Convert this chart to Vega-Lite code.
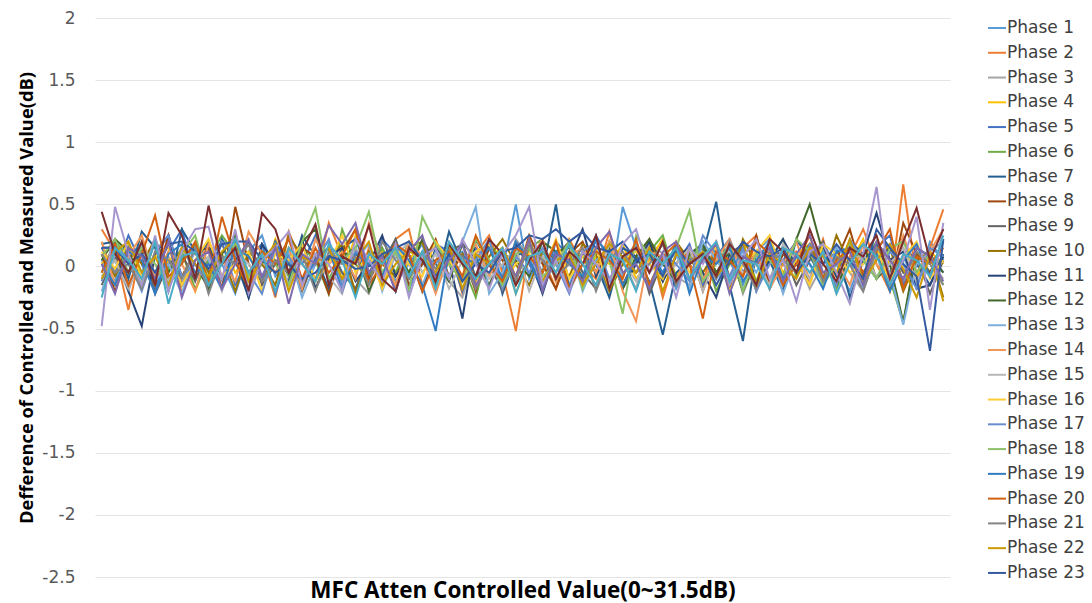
{"$schema":"https://vega.github.io/schema/vega-lite/v6.json","width":855,"height":559,"autosize":{"type":"none"},"padding":{"left":95,"top":18,"right":142,"bottom":26},"background":"white","config":{"view":{"stroke":null},"font":"DejaVu Sans"},
"data":{"values":[
{"p":1,"x":0,"y":0.05},{"p":1,"x":0.5,"y":-0.12},{"p":1,"x":1,"y":0.18},{"p":1,"x":1.5,"y":-0.05},{"p":1,"x":2,"y":0.22},{"p":1,"x":2.5,"y":-0.18},{"p":1,"x":3,"y":0.08},{"p":1,"x":3.5,"y":0.14},{"p":1,"x":4,"y":-0.10},{"p":1,"x":4.5,"y":0.02},{"p":1,"x":5,"y":-0.22},{"p":1,"x":5.5,"y":0.12},{"p":1,"x":6,"y":0.25},{"p":1,"x":6.5,"y":-0.08},{"p":1,"x":7,"y":0.05},{"p":1,"x":7.5,"y":-0.15},{"p":1,"x":8,"y":0.10},{"p":1,"x":8.5,"y":0.20},{"p":1,"x":9,"y":-0.05},{"p":1,"x":9.5,"y":-0.18},{"p":1,"x":10,"y":0.08},{"p":1,"x":10.5,"y":0.15},{"p":1,"x":11,"y":-0.12},{"p":1,"x":11.5,"y":0.02},{"p":1,"x":12,"y":0.18},{"p":1,"x":12.5,"y":-0.20},{"p":1,"x":13,"y":0.06},{"p":1,"x":13.5,"y":0.12},{"p":1,"x":14,"y":-0.08},{"p":1,"x":14.5,"y":0.22},{"p":1,"x":15,"y":-0.03},{"p":1,"x":15.5,"y":0.50},{"p":1,"x":16,"y":-0.10},{"p":1,"x":16.5,"y":0.10},{"p":1,"x":17,"y":0.08},{"p":1,"x":17.5,"y":-0.15},{"p":1,"x":18,"y":0.12},{"p":1,"x":18.5,"y":0.02},{"p":1,"x":19,"y":-0.20},{"p":1,"x":19.5,"y":0.48},{"p":1,"x":20,"y":0.15},{"p":1,"x":20.5,"y":-0.05},{"p":1,"x":21,"y":0.10},{"p":1,"x":21.5,"y":-0.18},{"p":1,"x":22,"y":0.06},{"p":1,"x":22.5,"y":0.20},{"p":1,"x":23,"y":-0.10},{"p":1,"x":23.5,"y":0.04},{"p":1,"x":24,"y":-0.15},{"p":1,"x":24.5,"y":0.12},{"p":1,"x":25,"y":0.22},{"p":1,"x":25.5,"y":-0.08},{"p":1,"x":26,"y":0.05},{"p":1,"x":26.5,"y":-0.12},{"p":1,"x":27,"y":0.18},{"p":1,"x":27.5,"y":0.02},{"p":1,"x":28,"y":-0.20},{"p":1,"x":28.5,"y":0.10},{"p":1,"x":29,"y":0.15},{"p":1,"x":29.5,"y":-0.05},{"p":1,"x":30,"y":0.08},{"p":1,"x":30.5,"y":-0.15},{"p":1,"x":31,"y":0.20},{"p":1,"x":31.5,"y":0.05},
{"p":2,"x":0,"y":0.30},{"p":2,"x":0.5,"y":0.12},{"p":2,"x":1,"y":-0.35},{"p":2,"x":1.5,"y":0.18},{"p":2,"x":2,"y":-0.10},{"p":2,"x":2.5,"y":0.25},{"p":2,"x":3,"y":-0.22},{"p":2,"x":3.5,"y":0.05},{"p":2,"x":4,"y":0.15},{"p":2,"x":4.5,"y":-0.18},{"p":2,"x":5,"y":0.20},{"p":2,"x":5.5,"y":-0.05},{"p":2,"x":6,"y":0.10},{"p":2,"x":6.5,"y":-0.25},{"p":2,"x":7,"y":0.28},{"p":2,"x":7.5,"y":0.02},{"p":2,"x":8,"y":-0.12},{"p":2,"x":8.5,"y":0.35},{"p":2,"x":9,"y":0.08},{"p":2,"x":9.5,"y":-0.20},{"p":2,"x":10,"y":0.15},{"p":2,"x":10.5,"y":-0.08},{"p":2,"x":11,"y":0.22},{"p":2,"x":11.5,"y":0.30},{"p":2,"x":12,"y":-0.15},{"p":2,"x":12.5,"y":0.05},{"p":2,"x":13,"y":0.18},{"p":2,"x":13.5,"y":-0.22},{"p":2,"x":14,"y":0.10},{"p":2,"x":14.5,"y":0.25},{"p":2,"x":15,"y":-0.05},{"p":2,"x":15.5,"y":-0.52},{"p":2,"x":16,"y":0.15},{"p":2,"x":16.5,"y":0.08},{"p":2,"x":17,"y":-0.18},{"p":2,"x":17.5,"y":0.22},{"p":2,"x":18,"y":0.02},{"p":2,"x":18.5,"y":-0.10},{"p":2,"x":19,"y":0.28},{"p":2,"x":19.5,"y":-0.15},{"p":2,"x":20,"y":0.05},{"p":2,"x":20.5,"y":0.18},{"p":2,"x":21,"y":-0.25},{"p":2,"x":21.5,"y":0.10},{"p":2,"x":22,"y":0.02},{"p":2,"x":22.5,"y":-0.12},{"p":2,"x":23,"y":0.20},{"p":2,"x":23.5,"y":-0.08},{"p":2,"x":24,"y":0.15},{"p":2,"x":24.5,"y":0.25},{"p":2,"x":25,"y":-0.18},{"p":2,"x":25.5,"y":0.05},{"p":2,"x":26,"y":0.12},{"p":2,"x":26.5,"y":-0.10},{"p":2,"x":27,"y":0.22},{"p":2,"x":27.5,"y":-0.15},{"p":2,"x":28,"y":0.08},{"p":2,"x":28.5,"y":0.30},{"p":2,"x":29,"y":0.02},{"p":2,"x":29.5,"y":-0.20},{"p":2,"x":30,"y":0.66},{"p":2,"x":30.5,"y":-0.10},{"p":2,"x":31,"y":0.15},{"p":2,"x":31.5,"y":0.46},
{"p":3,"x":0,"y":-0.10},{"p":3,"x":0.5,"y":0.05},{"p":3,"x":1,"y":-0.20},{"p":3,"x":1.5,"y":0.12},{"p":3,"x":2,"y":-0.05},{"p":3,"x":2.5,"y":0.08},{"p":3,"x":3,"y":-0.15},{"p":3,"x":3.5,"y":0.18},{"p":3,"x":4,"y":0.02},{"p":3,"x":4.5,"y":-0.12},{"p":3,"x":5,"y":0.10},{"p":3,"x":5.5,"y":-0.25},{"p":3,"x":6,"y":0.05},{"p":3,"x":6.5,"y":0.15},{"p":3,"x":7,"y":-0.08},{"p":3,"x":7.5,"y":0.20},{"p":3,"x":8,"y":-0.18},{"p":3,"x":8.5,"y":0.02},{"p":3,"x":9,"y":0.12},{"p":3,"x":9.5,"y":-0.10},{"p":3,"x":10,"y":-0.22},{"p":3,"x":10.5,"y":0.08},{"p":3,"x":11,"y":0.15},{"p":3,"x":11.5,"y":-0.05},{"p":3,"x":12,"y":0.02},{"p":3,"x":12.5,"y":0.18},{"p":3,"x":13,"y":-0.12},{"p":3,"x":13.5,"y":-0.25},{"p":3,"x":14,"y":0.10},{"p":3,"x":14.5,"y":0.05},{"p":3,"x":15,"y":-0.15},{"p":3,"x":15.5,"y":0.22},{"p":3,"x":16,"y":0.08},{"p":3,"x":16.5,"y":-0.05},{"p":3,"x":17,"y":0.12},{"p":3,"x":17.5,"y":-0.20},{"p":3,"x":18,"y":0.02},{"p":3,"x":18.5,"y":0.15},{"p":3,"x":19,"y":-0.10},{"p":3,"x":19.5,"y":0.05},{"p":3,"x":20,"y":-0.18},{"p":3,"x":20.5,"y":0.20},{"p":3,"x":21,"y":0.10},{"p":3,"x":21.5,"y":-0.08},{"p":3,"x":22,"y":-0.15},{"p":3,"x":22.5,"y":0.12},{"p":3,"x":23,"y":0.02},{"p":3,"x":23.5,"y":0.18},{"p":3,"x":24,"y":-0.22},{"p":3,"x":24.5,"y":0.05},{"p":3,"x":25,"y":-0.10},{"p":3,"x":25.5,"y":0.15},{"p":3,"x":26,"y":0.08},{"p":3,"x":26.5,"y":-0.18},{"p":3,"x":27,"y":0.02},{"p":3,"x":27.5,"y":0.12},{"p":3,"x":28,"y":-0.05},{"p":3,"x":28.5,"y":-0.20},{"p":3,"x":29,"y":0.10},{"p":3,"x":29.5,"y":0.18},{"p":3,"x":30,"y":-0.12},{"p":3,"x":30.5,"y":0.05},{"p":3,"x":31,"y":-0.08},{"p":3,"x":31.5,"y":0.10},
{"p":4,"x":0,"y":0.02},{"p":4,"x":0.5,"y":0.15},{"p":4,"x":1,"y":-0.08},{"p":4,"x":1.5,"y":0.20},{"p":4,"x":2,"y":-0.15},{"p":4,"x":2.5,"y":0.05},{"p":4,"x":3,"y":0.12},{"p":4,"x":3.5,"y":-0.20},{"p":4,"x":4,"y":0.08},{"p":4,"x":4.5,"y":0.18},{"p":4,"x":5,"y":-0.05},{"p":4,"x":5.5,"y":0.10},{"p":4,"x":6,"y":-0.12},{"p":4,"x":6.5,"y":0.22},{"p":4,"x":7,"y":0.02},{"p":4,"x":7.5,"y":-0.18},{"p":4,"x":8,"y":0.08},{"p":4,"x":8.5,"y":0.15},{"p":4,"x":9,"y":-0.10},{"p":4,"x":9.5,"y":0.25},{"p":4,"x":10,"y":-0.05},{"p":4,"x":10.5,"y":0.12},{"p":4,"x":11,"y":-0.15},{"p":4,"x":11.5,"y":0.05},{"p":4,"x":12,"y":0.20},{"p":4,"x":12.5,"y":-0.08},{"p":4,"x":13,"y":0.02},{"p":4,"x":13.5,"y":0.18},{"p":4,"x":14,"y":-0.12},{"p":4,"x":14.5,"y":0.08},{"p":4,"x":15,"y":0.15},{"p":4,"x":15.5,"y":-0.22},{"p":4,"x":16,"y":0.05},{"p":4,"x":16.5,"y":0.12},{"p":4,"x":17,"y":-0.05},{"p":4,"x":17.5,"y":0.20},{"p":4,"x":18,"y":-0.15},{"p":4,"x":18.5,"y":0.08},{"p":4,"x":19,"y":0.02},{"p":4,"x":19.5,"y":0.18},{"p":4,"x":20,"y":-0.10},{"p":4,"x":20.5,"y":0.05},{"p":4,"x":21,"y":0.22},{"p":4,"x":21.5,"y":-0.08},{"p":4,"x":22,"y":0.12},{"p":4,"x":22.5,"y":-0.18},{"p":4,"x":23,"y":0.05},{"p":4,"x":23.5,"y":0.15},{"p":4,"x":24,"y":0.02},{"p":4,"x":24.5,"y":-0.12},{"p":4,"x":25,"y":0.20},{"p":4,"x":25.5,"y":-0.05},{"p":4,"x":26,"y":0.10},{"p":4,"x":26.5,"y":0.18},{"p":4,"x":27,"y":-0.15},{"p":4,"x":27.5,"y":0.08},{"p":4,"x":28,"y":0.02},{"p":4,"x":28.5,"y":0.22},{"p":4,"x":29,"y":-0.10},{"p":4,"x":29.5,"y":0.05},{"p":4,"x":30,"y":0.15},{"p":4,"x":30.5,"y":-0.08},{"p":4,"x":31,"y":0.12},{"p":4,"x":31.5,"y":0.02},
{"p":5,"x":0,"y":0.15},{"p":5,"x":0.5,"y":-0.05},{"p":5,"x":1,"y":0.25},{"p":5,"x":1.5,"y":0.02},{"p":5,"x":2,"y":-0.18},{"p":5,"x":2.5,"y":0.12},{"p":5,"x":3,"y":0.30},{"p":5,"x":3.5,"y":-0.10},{"p":5,"x":4,"y":0.05},{"p":5,"x":4.5,"y":0.20},{"p":5,"x":5,"y":-0.15},{"p":5,"x":5.5,"y":0.08},{"p":5,"x":6,"y":0.18},{"p":5,"x":6.5,"y":-0.22},{"p":5,"x":7,"y":0.10},{"p":5,"x":7.5,"y":0.02},{"p":5,"x":8,"y":0.25},{"p":5,"x":8.5,"y":-0.12},{"p":5,"x":9,"y":0.05},{"p":5,"x":9.5,"y":0.15},{"p":5,"x":10,"y":-0.08},{"p":5,"x":10.5,"y":0.22},{"p":5,"x":11,"y":0.10},{"p":5,"x":11.5,"y":-0.15},{"p":5,"x":12,"y":0.02},{"p":5,"x":12.5,"y":0.18},{"p":5,"x":13,"y":0.12},{"p":5,"x":13.5,"y":-0.20},{"p":5,"x":14,"y":0.15},{"p":5,"x":14.5,"y":0.05},{"p":5,"x":15,"y":-0.10},{"p":5,"x":15.5,"y":0.15},{"p":5,"x":16,"y":0.02},{"p":5,"x":16.5,"y":-0.18},{"p":5,"x":17,"y":0.20},{"p":5,"x":17.5,"y":0.08},{"p":5,"x":18,"y":-0.12},{"p":5,"x":18.5,"y":0.25},{"p":5,"x":19,"y":0.05},{"p":5,"x":19.5,"y":-0.08},{"p":5,"x":20,"y":0.15},{"p":5,"x":20.5,"y":-0.20},{"p":5,"x":21,"y":0.10},{"p":5,"x":21.5,"y":0.02},{"p":5,"x":22,"y":0.18},{"p":5,"x":22.5,"y":-0.15},{"p":5,"x":23,"y":0.08},{"p":5,"x":23.5,"y":0.22},{"p":5,"x":24,"y":-0.05},{"p":5,"x":24.5,"y":0.12},{"p":5,"x":25,"y":-0.18},{"p":5,"x":25.5,"y":0.05},{"p":5,"x":26,"y":0.20},{"p":5,"x":26.5,"y":0.10},{"p":5,"x":27,"y":-0.12},{"p":5,"x":27.5,"y":0.02},{"p":5,"x":28,"y":0.18},{"p":5,"x":28.5,"y":-0.08},{"p":5,"x":29,"y":0.15},{"p":5,"x":29.5,"y":0.25},{"p":5,"x":30,"y":-0.15},{"p":5,"x":30.5,"y":0.05},{"p":5,"x":31,"y":0.10},{"p":5,"x":31.5,"y":-0.05},
{"p":6,"x":0,"y":-0.05},{"p":6,"x":0.5,"y":0.20},{"p":6,"x":1,"y":0.08},{"p":6,"x":1.5,"y":-0.15},{"p":6,"x":2,"y":0.22},{"p":6,"x":2.5,"y":-0.02},{"p":6,"x":3,"y":0.12},{"p":6,"x":3.5,"y":-0.18},{"p":6,"x":4,"y":0.05},{"p":6,"x":4.5,"y":0.25},{"p":6,"x":5,"y":0.10},{"p":6,"x":5.5,"y":-0.12},{"p":6,"x":6,"y":0.02},{"p":6,"x":6.5,"y":0.18},{"p":6,"x":7,"y":-0.08},{"p":6,"x":7.5,"y":0.15},{"p":6,"x":8,"y":0.05},{"p":6,"x":8.5,"y":-0.22},{"p":6,"x":9,"y":0.30},{"p":6,"x":9.5,"y":0.02},{"p":6,"x":10,"y":-0.10},{"p":6,"x":10.5,"y":0.15},{"p":6,"x":11,"y":-0.05},{"p":6,"x":11.5,"y":0.20},{"p":6,"x":12,"y":0.08},{"p":6,"x":12.5,"y":-0.15},{"p":6,"x":13,"y":0.12},{"p":6,"x":13.5,"y":0.02},{"p":6,"x":14,"y":-0.25},{"p":6,"x":14.5,"y":0.18},{"p":6,"x":15,"y":0.05},{"p":6,"x":15.5,"y":-0.08},{"p":6,"x":16,"y":0.15},{"p":6,"x":16.5,"y":0.22},{"p":6,"x":17,"y":-0.12},{"p":6,"x":17.5,"y":0.05},{"p":6,"x":18,"y":0.10},{"p":6,"x":18.5,"y":-0.18},{"p":6,"x":19,"y":0.20},{"p":6,"x":19.5,"y":0.02},{"p":6,"x":20,"y":-0.05},{"p":6,"x":20.5,"y":0.12},{"p":6,"x":21,"y":0.25},{"p":6,"x":21.5,"y":-0.10},{"p":6,"x":22,"y":0.08},{"p":6,"x":22.5,"y":0.15},{"p":6,"x":23,"y":-0.20},{"p":6,"x":23.5,"y":0.02},{"p":6,"x":24,"y":0.18},{"p":6,"x":24.5,"y":-0.12},{"p":6,"x":25,"y":0.05},{"p":6,"x":25.5,"y":0.22},{"p":6,"x":26,"y":-0.08},{"p":6,"x":26.5,"y":0.10},{"p":6,"x":27,"y":0.15},{"p":6,"x":27.5,"y":-0.18},{"p":6,"x":28,"y":0.05},{"p":6,"x":28.5,"y":0.02},{"p":6,"x":29,"y":0.20},{"p":6,"x":29.5,"y":-0.10},{"p":6,"x":30,"y":-0.45},{"p":6,"x":30.5,"y":0.12},{"p":6,"x":31,"y":-0.05},{"p":6,"x":31.5,"y":0.08},
{"p":7,"x":0,"y":0.18},{"p":7,"x":0.5,"y":0.20},{"p":7,"x":1,"y":-0.10},{"p":7,"x":1.5,"y":0.28},{"p":7,"x":2,"y":0.15},{"p":7,"x":2.5,"y":-0.20},{"p":7,"x":3,"y":0.30},{"p":7,"x":3.5,"y":0.12},{"p":7,"x":4,"y":-0.15},{"p":7,"x":4.5,"y":0.22},{"p":7,"x":5,"y":0.05},{"p":7,"x":5.5,"y":-0.25},{"p":7,"x":6,"y":0.18},{"p":7,"x":6.5,"y":0.02},{"p":7,"x":7,"y":-0.12},{"p":7,"x":7.5,"y":0.25},{"p":7,"x":8,"y":0.08},{"p":7,"x":8.5,"y":-0.18},{"p":7,"x":9,"y":0.15},{"p":7,"x":9.5,"y":0.22},{"p":7,"x":10,"y":-0.05},{"p":7,"x":10.5,"y":0.10},{"p":7,"x":11,"y":-0.20},{"p":7,"x":11.5,"y":0.18},{"p":7,"x":12,"y":0.05},{"p":7,"x":12.5,"y":-0.15},{"p":7,"x":13,"y":0.28},{"p":7,"x":13.5,"y":0.02},{"p":7,"x":14,"y":-0.10},{"p":7,"x":14.5,"y":0.20},{"p":7,"x":15,"y":-0.22},{"p":7,"x":15.5,"y":0.08},{"p":7,"x":16,"y":0.15},{"p":7,"x":16.5,"y":-0.05},{"p":7,"x":17,"y":0.50},{"p":7,"x":17.5,"y":-0.18},{"p":7,"x":18,"y":0.10},{"p":7,"x":18.5,"y":0.02},{"p":7,"x":19,"y":-0.25},{"p":7,"x":19.5,"y":0.15},{"p":7,"x":20,"y":0.08},{"p":7,"x":20.5,"y":-0.12},{"p":7,"x":21,"y":-0.55},{"p":7,"x":21.5,"y":-0.05},{"p":7,"x":22,"y":0.05},{"p":7,"x":22.5,"y":0.10},{"p":7,"x":23,"y":0.52},{"p":7,"x":23.5,"y":-0.15},{"p":7,"x":24,"y":-0.60},{"p":7,"x":24.5,"y":0.12},{"p":7,"x":25,"y":0.05},{"p":7,"x":25.5,"y":-0.20},{"p":7,"x":26,"y":0.22},{"p":7,"x":26.5,"y":0.08},{"p":7,"x":27,"y":-0.10},{"p":7,"x":27.5,"y":0.15},{"p":7,"x":28,"y":-0.25},{"p":7,"x":28.5,"y":0.05},{"p":7,"x":29,"y":0.18},{"p":7,"x":29.5,"y":-0.08},{"p":7,"x":30,"y":0.20},{"p":7,"x":30.5,"y":0.02},{"p":7,"x":31,"y":-0.15},{"p":7,"x":31.5,"y":0.10},
{"p":8,"x":0,"y":0.10},{"p":8,"x":0.5,"y":-0.20},{"p":8,"x":1,"y":0.10},{"p":8,"x":1.5,"y":0.05},{"p":8,"x":2,"y":-0.15},{"p":8,"x":2.5,"y":0.25},{"p":8,"x":3,"y":-0.08},{"p":8,"x":3.5,"y":0.12},{"p":8,"x":4,"y":0.15},{"p":8,"x":4.5,"y":-0.18},{"p":8,"x":5,"y":0.48},{"p":8,"x":5.5,"y":0.02},{"p":8,"x":6,"y":-0.12},{"p":8,"x":6.5,"y":0.20},{"p":8,"x":7,"y":-0.05},{"p":8,"x":7.5,"y":0.15},{"p":8,"x":8,"y":0.08},{"p":8,"x":8.5,"y":-0.22},{"p":8,"x":9,"y":0.12},{"p":8,"x":9.5,"y":0.30},{"p":8,"x":10,"y":-0.10},{"p":8,"x":10.5,"y":0.05},{"p":8,"x":11,"y":0.18},{"p":8,"x":11.5,"y":-0.15},{"p":8,"x":12,"y":0.02},{"p":8,"x":12.5,"y":0.22},{"p":8,"x":13,"y":-0.08},{"p":8,"x":13.5,"y":0.10},{"p":8,"x":14,"y":-0.20},{"p":8,"x":14.5,"y":0.15},{"p":8,"x":15,"y":0.05},{"p":8,"x":15.5,"y":-0.12},{"p":8,"x":16,"y":0.25},{"p":8,"x":16.5,"y":0.02},{"p":8,"x":17,"y":-0.18},{"p":8,"x":17.5,"y":0.10},{"p":8,"x":18,"y":0.20},{"p":8,"x":18.5,"y":-0.05},{"p":8,"x":19,"y":0.12},{"p":8,"x":19.5,"y":-0.15},{"p":8,"x":20,"y":0.08},{"p":8,"x":20.5,"y":0.22},{"p":8,"x":21,"y":-0.10},{"p":8,"x":21.5,"y":0.02},{"p":8,"x":22,"y":0.15},{"p":8,"x":22.5,"y":-0.20},{"p":8,"x":23,"y":0.12},{"p":8,"x":23.5,"y":0.05},{"p":8,"x":24,"y":-0.08},{"p":8,"x":24.5,"y":0.25},{"p":8,"x":25,"y":-0.15},{"p":8,"x":25.5,"y":0.10},{"p":8,"x":26,"y":0.02},{"p":8,"x":26.5,"y":0.18},{"p":8,"x":27,"y":-0.12},{"p":8,"x":27.5,"y":0.05},{"p":8,"x":28,"y":0.30},{"p":8,"x":28.5,"y":-0.08},{"p":8,"x":29,"y":0.12},{"p":8,"x":29.5,"y":-0.18},{"p":8,"x":30,"y":0.35},{"p":8,"x":30.5,"y":0.10},{"p":8,"x":31,"y":-0.05},{"p":8,"x":31.5,"y":0.20},
{"p":9,"x":0,"y":-0.15},{"p":9,"x":0.5,"y":0.08},{"p":9,"x":1,"y":-0.05},{"p":9,"x":1.5,"y":0.15},{"p":9,"x":2,"y":-0.22},{"p":9,"x":2.5,"y":0.02},{"p":9,"x":3,"y":0.10},{"p":9,"x":3.5,"y":-0.12},{"p":9,"x":4,"y":0.18},{"p":9,"x":4.5,"y":-0.08},{"p":9,"x":5,"y":0.05},{"p":9,"x":5.5,"y":0.20},{"p":9,"x":6,"y":-0.15},{"p":9,"x":6.5,"y":0.02},{"p":9,"x":7,"y":0.12},{"p":9,"x":7.5,"y":-0.20},{"p":9,"x":8,"y":0.08},{"p":9,"x":8.5,"y":0.15},{"p":9,"x":9,"y":-0.05},{"p":9,"x":9.5,"y":-0.18},{"p":9,"x":10,"y":0.10},{"p":9,"x":10.5,"y":0.02},{"p":9,"x":11,"y":0.22},{"p":9,"x":11.5,"y":-0.10},{"p":9,"x":12,"y":0.05},{"p":9,"x":12.5,"y":-0.15},{"p":9,"x":13,"y":0.12},{"p":9,"x":13.5,"y":0.18},{"p":9,"x":14,"y":-0.08},{"p":9,"x":14.5,"y":0.02},{"p":9,"x":15,"y":-0.20},{"p":9,"x":15.5,"y":0.15},{"p":9,"x":16,"y":0.05},{"p":9,"x":16.5,"y":-0.12},{"p":9,"x":17,"y":0.08},{"p":9,"x":17.5,"y":0.20},{"p":9,"x":18,"y":-0.05},{"p":9,"x":18.5,"y":-0.18},{"p":9,"x":19,"y":0.10},{"p":9,"x":19.5,"y":0.02},{"p":9,"x":20,"y":0.15},{"p":9,"x":20.5,"y":-0.22},{"p":9,"x":21,"y":0.05},{"p":9,"x":21.5,"y":0.12},{"p":9,"x":22,"y":-0.10},{"p":9,"x":22.5,"y":0.18},{"p":9,"x":23,"y":-0.05},{"p":9,"x":23.5,"y":0.02},{"p":9,"x":24,"y":0.15},{"p":9,"x":24.5,"y":-0.20},{"p":9,"x":25,"y":0.08},{"p":9,"x":25.5,"y":0.12},{"p":9,"x":26,"y":-0.15},{"p":9,"x":26.5,"y":0.05},{"p":9,"x":27,"y":0.20},{"p":9,"x":27.5,"y":-0.08},{"p":9,"x":28,"y":0.02},{"p":9,"x":28.5,"y":-0.18},{"p":9,"x":29,"y":0.10},{"p":9,"x":29.5,"y":0.15},{"p":9,"x":30,"y":-0.05},{"p":9,"x":30.5,"y":0.08},{"p":9,"x":31,"y":-0.22},{"p":9,"x":31.5,"y":0.05},
{"p":10,"x":0,"y":0.10},{"p":10,"x":0.5,"y":-0.08},{"p":10,"x":1,"y":0.15},{"p":10,"x":1.5,"y":0.02},{"p":10,"x":2,"y":0.22},{"p":10,"x":2.5,"y":-0.12},{"p":10,"x":3,"y":0.05},{"p":10,"x":3.5,"y":0.18},{"p":10,"x":4,"y":-0.05},{"p":10,"x":4.5,"y":0.10},{"p":10,"x":5,"y":-0.20},{"p":10,"x":5.5,"y":0.12},{"p":10,"x":6,"y":0.02},{"p":10,"x":6.5,"y":-0.15},{"p":10,"x":7,"y":0.25},{"p":10,"x":7.5,"y":0.08},{"p":10,"x":8,"y":-0.10},{"p":10,"x":8.5,"y":0.05},{"p":10,"x":9,"y":0.18},{"p":10,"x":9.5,"y":-0.22},{"p":10,"x":10,"y":0.12},{"p":10,"x":10.5,"y":0.02},{"p":10,"x":11,"y":-0.08},{"p":10,"x":11.5,"y":0.15},{"p":10,"x":12,"y":0.20},{"p":10,"x":12.5,"y":-0.12},{"p":10,"x":13,"y":0.05},{"p":10,"x":13.5,"y":0.10},{"p":10,"x":14,"y":-0.18},{"p":10,"x":14.5,"y":0.08},{"p":10,"x":15,"y":0.22},{"p":10,"x":15.5,"y":0.02},{"p":10,"x":16,"y":-0.15},{"p":10,"x":16.5,"y":0.12},{"p":10,"x":17,"y":0.05},{"p":10,"x":17.5,"y":-0.08},{"p":10,"x":18,"y":0.18},{"p":10,"x":18.5,"y":0.10},{"p":10,"x":19,"y":-0.20},{"p":10,"x":19.5,"y":0.02},{"p":10,"x":20,"y":0.15},{"p":10,"x":20.5,"y":0.08},{"p":10,"x":21,"y":-0.12},{"p":10,"x":21.5,"y":0.20},{"p":10,"x":22,"y":0.05},{"p":10,"x":22.5,"y":-0.05},{"p":10,"x":23,"y":0.12},{"p":10,"x":23.5,"y":-0.18},{"p":10,"x":24,"y":0.22},{"p":10,"x":24.5,"y":0.02},{"p":10,"x":25,"y":0.10},{"p":10,"x":25.5,"y":-0.15},{"p":10,"x":26,"y":0.05},{"p":10,"x":26.5,"y":0.18},{"p":10,"x":27,"y":-0.10},{"p":10,"x":27.5,"y":0.25},{"p":10,"x":28,"y":0.02},{"p":10,"x":28.5,"y":-0.12},{"p":10,"x":29,"y":0.08},{"p":10,"x":29.5,"y":0.15},{"p":10,"x":30,"y":-0.20},{"p":10,"x":30.5,"y":0.05},{"p":10,"x":31,"y":0.12},{"p":10,"x":31.5,"y":-0.25},
{"p":11,"x":0,"y":0.15},{"p":11,"x":0.5,"y":0.15},{"p":11,"x":1,"y":-0.20},{"p":11,"x":1.5,"y":-0.48},{"p":11,"x":2,"y":0.10},{"p":11,"x":2.5,"y":0.25},{"p":11,"x":3,"y":-0.15},{"p":11,"x":3.5,"y":0.05},{"p":11,"x":4,"y":0.20},{"p":11,"x":4.5,"y":-0.10},{"p":11,"x":5,"y":0.12},{"p":11,"x":5.5,"y":-0.25},{"p":11,"x":6,"y":0.18},{"p":11,"x":6.5,"y":0.02},{"p":11,"x":7,"y":-0.05},{"p":11,"x":7.5,"y":0.22},{"p":11,"x":8,"y":-0.18},{"p":11,"x":8.5,"y":0.08},{"p":11,"x":9,"y":0.15},{"p":11,"x":9.5,"y":-0.12},{"p":11,"x":10,"y":0.02},{"p":11,"x":10.5,"y":0.25},{"p":11,"x":11,"y":-0.08},{"p":11,"x":11.5,"y":0.10},{"p":11,"x":12,"y":-0.20},{"p":11,"x":12.5,"y":0.15},{"p":11,"x":13,"y":0.05},{"p":11,"x":13.5,"y":-0.42},{"p":11,"x":14,"y":0.22},{"p":11,"x":14.5,"y":0.02},{"p":11,"x":15,"y":-0.10},{"p":11,"x":15.5,"y":0.18},{"p":11,"x":16,"y":0.08},{"p":11,"x":16.5,"y":-0.22},{"p":11,"x":17,"y":0.12},{"p":11,"x":17.5,"y":0.05},{"p":11,"x":18,"y":0.30},{"p":11,"x":18.5,"y":-0.08},{"p":11,"x":19,"y":0.15},{"p":11,"x":19.5,"y":-0.18},{"p":11,"x":20,"y":0.02},{"p":11,"x":20.5,"y":0.20},{"p":11,"x":21,"y":-0.12},{"p":11,"x":21.5,"y":0.08},{"p":11,"x":22,"y":0.15},{"p":11,"x":22.5,"y":-0.05},{"p":11,"x":23,"y":-0.25},{"p":11,"x":23.5,"y":0.10},{"p":11,"x":24,"y":0.18},{"p":11,"x":24.5,"y":-0.15},{"p":11,"x":25,"y":0.05},{"p":11,"x":25.5,"y":0.22},{"p":11,"x":26,"y":0.02},{"p":11,"x":26.5,"y":-0.12},{"p":11,"x":27,"y":0.15},{"p":11,"x":27.5,"y":-0.08},{"p":11,"x":28,"y":0.20},{"p":11,"x":28.5,"y":0.10},{"p":11,"x":29,"y":0.43},{"p":11,"x":29.5,"y":0.05},{"p":11,"x":30,"y":0.12},{"p":11,"x":30.5,"y":-0.18},{"p":11,"x":31,"y":-0.15},{"p":11,"x":31.5,"y":0.08},
{"p":12,"x":0,"y":0.05},{"p":12,"x":0.5,"y":0.22},{"p":12,"x":1,"y":0.12},{"p":12,"x":1.5,"y":-0.10},{"p":12,"x":2,"y":0.20},{"p":12,"x":2.5,"y":-0.05},{"p":12,"x":3,"y":0.15},{"p":12,"x":3.5,"y":0.02},{"p":12,"x":4,"y":-0.18},{"p":12,"x":4.5,"y":0.10},{"p":12,"x":5,"y":0.25},{"p":12,"x":5.5,"y":-0.08},{"p":12,"x":6,"y":0.12},{"p":12,"x":6.5,"y":0.05},{"p":12,"x":7,"y":-0.15},{"p":12,"x":7.5,"y":0.20},{"p":12,"x":8,"y":0.30},{"p":12,"x":8.5,"y":-0.10},{"p":12,"x":9,"y":0.08},{"p":12,"x":9.5,"y":0.15},{"p":12,"x":10,"y":-0.20},{"p":12,"x":10.5,"y":0.05},{"p":12,"x":11,"y":0.12},{"p":12,"x":11.5,"y":-0.05},{"p":12,"x":12,"y":0.22},{"p":12,"x":12.5,"y":0.02},{"p":12,"x":13,"y":-0.12},{"p":12,"x":13.5,"y":0.18},{"p":12,"x":14,"y":0.08},{"p":12,"x":14.5,"y":-0.15},{"p":12,"x":15,"y":0.10},{"p":12,"x":15.5,"y":0.05},{"p":12,"x":16,"y":-0.08},{"p":12,"x":16.5,"y":0.20},{"p":12,"x":17,"y":0.12},{"p":12,"x":17.5,"y":0.15},{"p":12,"x":18,"y":-0.10},{"p":12,"x":18.5,"y":0.05},{"p":12,"x":19,"y":0.15},{"p":12,"x":19.5,"y":-0.18},{"p":12,"x":20,"y":0.08},{"p":12,"x":20.5,"y":0.22},{"p":12,"x":21,"y":0.02},{"p":12,"x":21.5,"y":-0.12},{"p":12,"x":22,"y":0.10},{"p":12,"x":22.5,"y":0.18},{"p":12,"x":23,"y":-0.05},{"p":12,"x":23.5,"y":0.12},{"p":12,"x":24,"y":-0.20},{"p":12,"x":24.5,"y":0.05},{"p":12,"x":25,"y":0.15},{"p":12,"x":25.5,"y":-0.08},{"p":12,"x":26,"y":0.22},{"p":12,"x":26.5,"y":0.50},{"p":12,"x":27,"y":0.10},{"p":12,"x":27.5,"y":-0.15},{"p":12,"x":28,"y":0.05},{"p":12,"x":28.5,"y":0.18},{"p":12,"x":29,"y":-0.10},{"p":12,"x":29.5,"y":0.02},{"p":12,"x":30,"y":-0.45},{"p":12,"x":30.5,"y":0.15},{"p":12,"x":31,"y":0.08},{"p":12,"x":31.5,"y":-0.05},
{"p":13,"x":0,"y":-0.20},{"p":13,"x":0.5,"y":0.10},{"p":13,"x":1,"y":-0.05},{"p":13,"x":1.5,"y":0.18},{"p":13,"x":2,"y":-0.12},{"p":13,"x":2.5,"y":0.02},{"p":13,"x":3,"y":-0.22},{"p":13,"x":3.5,"y":0.15},{"p":13,"x":4,"y":0.05},{"p":13,"x":4.5,"y":-0.10},{"p":13,"x":5,"y":0.20},{"p":13,"x":5.5,"y":-0.18},{"p":13,"x":6,"y":0.08},{"p":13,"x":6.5,"y":-0.05},{"p":13,"x":7,"y":0.12},{"p":13,"x":7.5,"y":-0.25},{"p":13,"x":8,"y":0.02},{"p":13,"x":8.5,"y":0.15},{"p":13,"x":9,"y":-0.12},{"p":13,"x":9.5,"y":0.05},{"p":13,"x":10,"y":0.18},{"p":13,"x":10.5,"y":-0.20},{"p":13,"x":11,"y":0.10},{"p":13,"x":11.5,"y":0.02},{"p":13,"x":12,"y":-0.15},{"p":13,"x":12.5,"y":0.12},{"p":13,"x":13,"y":-0.08},{"p":13,"x":13.5,"y":0.20},{"p":13,"x":14,"y":0.48},{"p":13,"x":14.5,"y":-0.22},{"p":13,"x":15,"y":-0.05},{"p":13,"x":15.5,"y":0.15},{"p":13,"x":16,"y":0.08},{"p":13,"x":16.5,"y":-0.12},{"p":13,"x":17,"y":0.02},{"p":13,"x":17.5,"y":0.18},{"p":13,"x":18,"y":-0.20},{"p":13,"x":18.5,"y":0.05},{"p":13,"x":19,"y":0.12},{"p":13,"x":19.5,"y":-0.08},{"p":13,"x":20,"y":0.15},{"p":13,"x":20.5,"y":-0.15},{"p":13,"x":21,"y":0.02},{"p":13,"x":21.5,"y":0.10},{"p":13,"x":22,"y":-0.18},{"p":13,"x":22.5,"y":0.20},{"p":13,"x":23,"y":0.05},{"p":13,"x":23.5,"y":-0.10},{"p":13,"x":24,"y":0.12},{"p":13,"x":24.5,"y":-0.05},{"p":13,"x":25,"y":0.18},{"p":13,"x":25.5,"y":-0.22},{"p":13,"x":26,"y":0.08},{"p":13,"x":26.5,"y":0.02},{"p":13,"x":27,"y":-0.12},{"p":13,"x":27.5,"y":0.15},{"p":13,"x":28,"y":0.05},{"p":13,"x":28.5,"y":-0.18},{"p":13,"x":29,"y":0.10},{"p":13,"x":29.5,"y":-0.05},{"p":13,"x":30,"y":-0.47},{"p":13,"x":30.5,"y":0.02},{"p":13,"x":31,"y":0.12},{"p":13,"x":31.5,"y":0.20},
{"p":14,"x":0,"y":0.20},{"p":14,"x":0.5,"y":-0.15},{"p":14,"x":1,"y":0.08},{"p":14,"x":1.5,"y":0.25},{"p":14,"x":2,"y":-0.10},{"p":14,"x":2.5,"y":0.12},{"p":14,"x":3,"y":0.02},{"p":14,"x":3.5,"y":-0.20},{"p":14,"x":4,"y":0.18},{"p":14,"x":4.5,"y":0.05},{"p":14,"x":5,"y":-0.12},{"p":14,"x":5.5,"y":0.28},{"p":14,"x":6,"y":0.10},{"p":14,"x":6.5,"y":-0.05},{"p":14,"x":7,"y":0.15},{"p":14,"x":7.5,"y":-0.18},{"p":14,"x":8,"y":0.22},{"p":14,"x":8.5,"y":0.02},{"p":14,"x":9,"y":0.12},{"p":14,"x":9.5,"y":-0.10},{"p":14,"x":10,"y":0.35},{"p":14,"x":10.5,"y":0.05},{"p":14,"x":11,"y":-0.15},{"p":14,"x":11.5,"y":0.20},{"p":14,"x":12,"y":0.08},{"p":14,"x":12.5,"y":-0.22},{"p":14,"x":13,"y":0.10},{"p":14,"x":13.5,"y":0.02},{"p":14,"x":14,"y":0.18},{"p":14,"x":14.5,"y":-0.08},{"p":14,"x":15,"y":0.12},{"p":14,"x":15.5,"y":-0.15},{"p":14,"x":16,"y":0.05},{"p":14,"x":16.5,"y":0.22},{"p":14,"x":17,"y":-0.12},{"p":14,"x":17.5,"y":0.08},{"p":14,"x":18,"y":0.15},{"p":14,"x":18.5,"y":-0.05},{"p":14,"x":19,"y":0.20},{"p":14,"x":19.5,"y":-0.20},{"p":14,"x":20,"y":-0.44},{"p":14,"x":20.5,"y":0.12},{"p":14,"x":21,"y":0.08},{"p":14,"x":21.5,"y":-0.12},{"p":14,"x":22,"y":0.15},{"p":14,"x":22.5,"y":-0.10},{"p":14,"x":23,"y":0.05},{"p":14,"x":23.5,"y":0.22},{"p":14,"x":24,"y":-0.08},{"p":14,"x":24.5,"y":0.12},{"p":14,"x":25,"y":-0.18},{"p":14,"x":25.5,"y":0.02},{"p":14,"x":26,"y":0.20},{"p":14,"x":26.5,"y":-0.12},{"p":14,"x":27,"y":0.10},{"p":14,"x":27.5,"y":0.05},{"p":14,"x":28,"y":-0.15},{"p":14,"x":28.5,"y":0.18},{"p":14,"x":29,"y":0.02},{"p":14,"x":29.5,"y":-0.10},{"p":14,"x":30,"y":0.25},{"p":14,"x":30.5,"y":-0.05},{"p":14,"x":31,"y":0.12},{"p":14,"x":31.5,"y":0.30},
{"p":15,"x":0,"y":-0.08},{"p":15,"x":0.5,"y":0.05},{"p":15,"x":1,"y":-0.18},{"p":15,"x":1.5,"y":0.10},{"p":15,"x":2,"y":0.02},{"p":15,"x":2.5,"y":-0.12},{"p":15,"x":3,"y":0.15},{"p":15,"x":3.5,"y":-0.05},{"p":15,"x":4,"y":0.08},{"p":15,"x":4.5,"y":-0.20},{"p":15,"x":5,"y":0.12},{"p":15,"x":5.5,"y":0.02},{"p":15,"x":6,"y":-0.10},{"p":15,"x":6.5,"y":0.18},{"p":15,"x":7,"y":-0.15},{"p":15,"x":7.5,"y":0.05},{"p":15,"x":8,"y":0.10},{"p":15,"x":8.5,"y":-0.08},{"p":15,"x":9,"y":-0.22},{"p":15,"x":9.5,"y":0.15},{"p":15,"x":10,"y":0.02},{"p":15,"x":10.5,"y":-0.12},{"p":15,"x":11,"y":0.08},{"p":15,"x":11.5,"y":0.20},{"p":15,"x":12,"y":-0.05},{"p":15,"x":12.5,"y":0.10},{"p":15,"x":13,"y":-0.18},{"p":15,"x":13.5,"y":0.05},{"p":15,"x":14,"y":0.12},{"p":15,"x":14.5,"y":-0.10},{"p":15,"x":15,"y":0.02},{"p":15,"x":15.5,"y":0.15},{"p":15,"x":16,"y":-0.20},{"p":15,"x":16.5,"y":0.08},{"p":15,"x":17,"y":-0.05},{"p":15,"x":17.5,"y":0.12},{"p":15,"x":18,"y":0.02},{"p":15,"x":18.5,"y":-0.15},{"p":15,"x":19,"y":0.18},{"p":15,"x":19.5,"y":0.05},{"p":15,"x":20,"y":-0.12},{"p":15,"x":20.5,"y":0.10},{"p":15,"x":21,"y":-0.08},{"p":15,"x":21.5,"y":0.02},{"p":15,"x":22,"y":0.15},{"p":15,"x":22.5,"y":-0.20},{"p":15,"x":23,"y":0.08},{"p":15,"x":23.5,"y":0.12},{"p":15,"x":24,"y":-0.05},{"p":15,"x":24.5,"y":0.02},{"p":15,"x":25,"y":-0.15},{"p":15,"x":25.5,"y":0.18},{"p":15,"x":26,"y":0.05},{"p":15,"x":26.5,"y":-0.10},{"p":15,"x":27,"y":0.12},{"p":15,"x":27.5,"y":-0.22},{"p":15,"x":28,"y":0.05},{"p":15,"x":28.5,"y":0.10},{"p":15,"x":29,"y":-0.08},{"p":15,"x":29.5,"y":0.02},{"p":15,"x":30,"y":0.15},{"p":15,"x":30.5,"y":-0.12},{"p":15,"x":31,"y":0.05},{"p":15,"x":31.5,"y":-0.10},
{"p":16,"x":0,"y":0.12},{"p":16,"x":0.5,"y":-0.02},{"p":16,"x":1,"y":0.20},{"p":16,"x":1.5,"y":-0.10},{"p":16,"x":2,"y":0.08},{"p":16,"x":2.5,"y":0.15},{"p":16,"x":3,"y":-0.15},{"p":16,"x":3.5,"y":0.05},{"p":16,"x":4,"y":0.22},{"p":16,"x":4.5,"y":-0.08},{"p":16,"x":5,"y":0.02},{"p":16,"x":5.5,"y":0.12},{"p":16,"x":6,"y":-0.20},{"p":16,"x":6.5,"y":0.10},{"p":16,"x":7,"y":0.05},{"p":16,"x":7.5,"y":0.18},{"p":16,"x":8,"y":-0.12},{"p":16,"x":8.5,"y":0.02},{"p":16,"x":9,"y":0.25},{"p":16,"x":9.5,"y":-0.05},{"p":16,"x":10,"y":0.10},{"p":16,"x":10.5,"y":-0.18},{"p":16,"x":11,"y":0.15},{"p":16,"x":11.5,"y":0.02},{"p":16,"x":12,"y":-0.08},{"p":16,"x":12.5,"y":0.20},{"p":16,"x":13,"y":0.05},{"p":16,"x":13.5,"y":-0.12},{"p":16,"x":14,"y":0.12},{"p":16,"x":14.5,"y":0.18},{"p":16,"x":15,"y":-0.15},{"p":16,"x":15.5,"y":0.02},{"p":16,"x":16,"y":0.10},{"p":16,"x":16.5,"y":-0.05},{"p":16,"x":17,"y":0.22},{"p":16,"x":17.5,"y":-0.10},{"p":16,"x":18,"y":0.08},{"p":16,"x":18.5,"y":0.15},{"p":16,"x":19,"y":-0.18},{"p":16,"x":19.5,"y":0.05},{"p":16,"x":20,"y":0.12},{"p":16,"x":20.5,"y":0.02},{"p":16,"x":21,"y":-0.10},{"p":16,"x":21.5,"y":0.20},{"p":16,"x":22,"y":-0.05},{"p":16,"x":22.5,"y":0.08},{"p":16,"x":23,"y":0.15},{"p":16,"x":23.5,"y":-0.20},{"p":16,"x":24,"y":0.02},{"p":16,"x":24.5,"y":0.12},{"p":16,"x":25,"y":0.25},{"p":16,"x":25.5,"y":-0.08},{"p":16,"x":26,"y":0.05},{"p":16,"x":26.5,"y":-0.15},{"p":16,"x":27,"y":0.18},{"p":16,"x":27.5,"y":0.10},{"p":16,"x":28,"y":-0.05},{"p":16,"x":28.5,"y":0.02},{"p":16,"x":29,"y":0.15},{"p":16,"x":29.5,"y":-0.12},{"p":16,"x":30,"y":0.08},{"p":16,"x":30.5,"y":0.20},{"p":16,"x":31,"y":-0.10},{"p":16,"x":31.5,"y":0.05},
{"p":17,"x":0,"y":-0.12},{"p":17,"x":0.5,"y":0.18},{"p":17,"x":1,"y":0.05},{"p":17,"x":1.5,"y":-0.20},{"p":17,"x":2,"y":0.12},{"p":17,"x":2.5,"y":0.25},{"p":17,"x":3,"y":-0.08},{"p":17,"x":3.5,"y":0.02},{"p":17,"x":4,"y":-0.15},{"p":17,"x":4.5,"y":0.20},{"p":17,"x":5,"y":0.10},{"p":17,"x":5.5,"y":-0.05},{"p":17,"x":6,"y":-0.22},{"p":17,"x":6.5,"y":0.15},{"p":17,"x":7,"y":0.08},{"p":17,"x":7.5,"y":-0.10},{"p":17,"x":8,"y":0.02},{"p":17,"x":8.5,"y":0.22},{"p":17,"x":9,"y":-0.15},{"p":17,"x":9.5,"y":0.12},{"p":17,"x":10,"y":0.05},{"p":17,"x":10.5,"y":-0.08},{"p":17,"x":11,"y":0.18},{"p":17,"x":11.5,"y":-0.20},{"p":17,"x":12,"y":0.10},{"p":17,"x":12.5,"y":0.02},{"p":17,"x":13,"y":0.15},{"p":17,"x":13.5,"y":-0.12},{"p":17,"x":14,"y":0.05},{"p":17,"x":14.5,"y":0.22},{"p":17,"x":15,"y":-0.18},{"p":17,"x":15.5,"y":0.08},{"p":17,"x":16,"y":-0.05},{"p":17,"x":16.5,"y":0.15},{"p":17,"x":17,"y":0.02},{"p":17,"x":17.5,"y":-0.22},{"p":17,"x":18,"y":0.12},{"p":17,"x":18.5,"y":0.20},{"p":17,"x":19,"y":-0.10},{"p":17,"x":19.5,"y":0.05},{"p":17,"x":20,"y":0.18},{"p":17,"x":20.5,"y":-0.15},{"p":17,"x":21,"y":0.08},{"p":17,"x":21.5,"y":0.02},{"p":17,"x":22,"y":-0.12},{"p":17,"x":22.5,"y":0.25},{"p":17,"x":23,"y":0.10},{"p":17,"x":23.5,"y":-0.08},{"p":17,"x":24,"y":0.15},{"p":17,"x":24.5,"y":-0.20},{"p":17,"x":25,"y":0.02},{"p":17,"x":25.5,"y":0.12},{"p":17,"x":26,"y":-0.05},{"p":17,"x":26.5,"y":0.18},{"p":17,"x":27,"y":0.08},{"p":17,"x":27.5,"y":-0.15},{"p":17,"x":28,"y":0.22},{"p":17,"x":28.5,"y":0.05},{"p":17,"x":29,"y":-0.10},{"p":17,"x":29.5,"y":0.12},{"p":17,"x":30,"y":0.02},{"p":17,"x":30.5,"y":-0.18},{"p":17,"x":31,"y":0.15},{"p":17,"x":31.5,"y":0.08},
{"p":18,"x":0,"y":0.08},{"p":18,"x":0.5,"y":0.22},{"p":18,"x":1,"y":-0.05},{"p":18,"x":1.5,"y":0.15},{"p":18,"x":2,"y":0.02},{"p":18,"x":2.5,"y":-0.18},{"p":18,"x":3,"y":0.10},{"p":18,"x":3.5,"y":0.25},{"p":18,"x":4,"y":-0.12},{"p":18,"x":4.5,"y":0.05},{"p":18,"x":5,"y":0.18},{"p":18,"x":5.5,"y":-0.08},{"p":18,"x":6,"y":0.12},{"p":18,"x":6.5,"y":0.02},{"p":18,"x":7,"y":-0.15},{"p":18,"x":7.5,"y":0.20},{"p":18,"x":8,"y":0.47},{"p":18,"x":8.5,"y":-0.10},{"p":18,"x":9,"y":0.05},{"p":18,"x":9.5,"y":0.15},{"p":18,"x":10,"y":0.44},{"p":18,"x":10.5,"y":-0.05},{"p":18,"x":11,"y":0.12},{"p":18,"x":11.5,"y":-0.20},{"p":18,"x":12,"y":0.40},{"p":18,"x":12.5,"y":0.18},{"p":18,"x":13,"y":0.02},{"p":18,"x":13.5,"y":-0.12},{"p":18,"x":14,"y":0.22},{"p":18,"x":14.5,"y":0.05},{"p":18,"x":15,"y":-0.15},{"p":18,"x":15.5,"y":0.10},{"p":18,"x":16,"y":0.15},{"p":18,"x":16.5,"y":-0.08},{"p":18,"x":17,"y":0.02},{"p":18,"x":17.5,"y":0.20},{"p":18,"x":18,"y":-0.18},{"p":18,"x":18.5,"y":0.12},{"p":18,"x":19,"y":0.05},{"p":18,"x":19.5,"y":-0.38},{"p":18,"x":20,"y":0.25},{"p":18,"x":20.5,"y":0.08},{"p":18,"x":21,"y":-0.05},{"p":18,"x":21.5,"y":0.15},{"p":18,"x":22,"y":0.45},{"p":18,"x":22.5,"y":-0.12},{"p":18,"x":23,"y":0.02},{"p":18,"x":23.5,"y":0.18},{"p":18,"x":24,"y":-0.20},{"p":18,"x":24.5,"y":0.10},{"p":18,"x":25,"y":0.05},{"p":18,"x":25.5,"y":-0.08},{"p":18,"x":26,"y":0.22},{"p":18,"x":26.5,"y":0.12},{"p":18,"x":27,"y":-0.15},{"p":18,"x":27.5,"y":0.02},{"p":18,"x":28,"y":0.18},{"p":18,"x":28.5,"y":0.05},{"p":18,"x":29,"y":-0.10},{"p":18,"x":29.5,"y":0.15},{"p":18,"x":30,"y":0.20},{"p":18,"x":30.5,"y":-0.05},{"p":18,"x":31,"y":0.10},{"p":18,"x":31.5,"y":-0.15},
{"p":19,"x":0,"y":0.02},{"p":19,"x":0.5,"y":-0.15},{"p":19,"x":1,"y":0.12},{"p":19,"x":1.5,"y":0.05},{"p":19,"x":2,"y":-0.22},{"p":19,"x":2.5,"y":0.10},{"p":19,"x":3,"y":0.18},{"p":19,"x":3.5,"y":-0.05},{"p":19,"x":4,"y":0.02},{"p":19,"x":4.5,"y":-0.18},{"p":19,"x":5,"y":0.15},{"p":19,"x":5.5,"y":0.08},{"p":19,"x":6,"y":-0.10},{"p":19,"x":6.5,"y":0.20},{"p":19,"x":7,"y":0.02},{"p":19,"x":7.5,"y":-0.12},{"p":19,"x":8,"y":0.05},{"p":19,"x":8.5,"y":0.15},{"p":19,"x":9,"y":-0.20},{"p":19,"x":9.5,"y":0.10},{"p":19,"x":10,"y":0.02},{"p":19,"x":10.5,"y":-0.08},{"p":19,"x":11,"y":0.18},{"p":19,"x":11.5,"y":0.05},{"p":19,"x":12,"y":-0.15},{"p":19,"x":12.5,"y":-0.52},{"p":19,"x":13,"y":0.12},{"p":19,"x":13.5,"y":0.08},{"p":19,"x":14,"y":0.02},{"p":19,"x":14.5,"y":0.15},{"p":19,"x":15,"y":-0.10},{"p":19,"x":15.5,"y":0.20},{"p":19,"x":16,"y":0.05},{"p":19,"x":16.5,"y":-0.18},{"p":19,"x":17,"y":0.12},{"p":19,"x":17.5,"y":0.02},{"p":19,"x":18,"y":-0.08},{"p":19,"x":18.5,"y":0.22},{"p":19,"x":19,"y":0.10},{"p":19,"x":19.5,"y":-0.15},{"p":19,"x":20,"y":0.05},{"p":19,"x":20.5,"y":0.12},{"p":19,"x":21,"y":-0.05},{"p":19,"x":21.5,"y":0.18},{"p":19,"x":22,"y":-0.22},{"p":19,"x":22.5,"y":0.08},{"p":19,"x":23,"y":0.02},{"p":19,"x":23.5,"y":0.15},{"p":19,"x":24,"y":-0.12},{"p":19,"x":24.5,"y":0.05},{"p":19,"x":25,"y":0.20},{"p":19,"x":25.5,"y":-0.10},{"p":19,"x":26,"y":0.08},{"p":19,"x":26.5,"y":0.02},{"p":19,"x":27,"y":-0.18},{"p":19,"x":27.5,"y":0.12},{"p":19,"x":28,"y":0.15},{"p":19,"x":28.5,"y":-0.05},{"p":19,"x":29,"y":0.10},{"p":19,"x":29.5,"y":-0.20},{"p":19,"x":30,"y":0.05},{"p":19,"x":30.5,"y":0.18},{"p":19,"x":31,"y":-0.08},{"p":19,"x":31.5,"y":0.22},
{"p":20,"x":0,"y":-0.05},{"p":20,"x":0.5,"y":0.18},{"p":20,"x":1,"y":-0.15},{"p":20,"x":1.5,"y":0.10},{"p":20,"x":2,"y":0.41},{"p":20,"x":2.5,"y":-0.08},{"p":20,"x":3,"y":0.02},{"p":20,"x":3.5,"y":0.20},{"p":20,"x":4,"y":-0.12},{"p":20,"x":4.5,"y":0.40},{"p":20,"x":5,"y":0.05},{"p":20,"x":5.5,"y":-0.18},{"p":20,"x":6,"y":0.12},{"p":20,"x":6.5,"y":0.02},{"p":20,"x":7,"y":0.22},{"p":20,"x":7.5,"y":-0.10},{"p":20,"x":8,"y":0.15},{"p":20,"x":8.5,"y":-0.05},{"p":20,"x":9,"y":0.08},{"p":20,"x":9.5,"y":0.30},{"p":20,"x":10,"y":-0.15},{"p":20,"x":10.5,"y":0.02},{"p":20,"x":11,"y":0.18},{"p":20,"x":11.5,"y":0.10},{"p":20,"x":12,"y":-0.20},{"p":20,"x":12.5,"y":0.05},{"p":20,"x":13,"y":0.12},{"p":20,"x":13.5,"y":-0.08},{"p":20,"x":14,"y":0.25},{"p":20,"x":14.5,"y":0.02},{"p":20,"x":15,"y":-0.12},{"p":20,"x":15.5,"y":0.15},{"p":20,"x":16,"y":0.08},{"p":20,"x":16.5,"y":-0.05},{"p":20,"x":17,"y":0.20},{"p":20,"x":17.5,"y":-0.18},{"p":20,"x":18,"y":0.02},{"p":20,"x":18.5,"y":0.12},{"p":20,"x":19,"y":0.05},{"p":20,"x":19.5,"y":-0.10},{"p":20,"x":20,"y":0.22},{"p":20,"x":20.5,"y":-0.15},{"p":20,"x":21,"y":0.08},{"p":20,"x":21.5,"y":0.18},{"p":20,"x":22,"y":0.02},{"p":20,"x":22.5,"y":-0.42},{"p":20,"x":23,"y":0.12},{"p":20,"x":23.5,"y":0.05},{"p":20,"x":24,"y":-0.08},{"p":20,"x":24.5,"y":0.20},{"p":20,"x":25,"y":0.10},{"p":20,"x":25.5,"y":-0.15},{"p":20,"x":26,"y":0.02},{"p":20,"x":26.5,"y":0.25},{"p":20,"x":27,"y":-0.10},{"p":20,"x":27.5,"y":0.05},{"p":20,"x":28,"y":0.15},{"p":20,"x":28.5,"y":-0.05},{"p":20,"x":29,"y":0.12},{"p":20,"x":29.5,"y":0.30},{"p":20,"x":30,"y":-0.18},{"p":20,"x":30.5,"y":0.08},{"p":20,"x":31,"y":0.02},{"p":20,"x":31.5,"y":0.15},
{"p":21,"x":0,"y":0.10},{"p":21,"x":0.5,"y":-0.05},{"p":21,"x":1,"y":0.02},{"p":21,"x":1.5,"y":-0.18},{"p":21,"x":2,"y":0.12},{"p":21,"x":2.5,"y":0.05},{"p":21,"x":3,"y":-0.10},{"p":21,"x":3.5,"y":0.15},{"p":21,"x":4,"y":-0.22},{"p":21,"x":4.5,"y":0.08},{"p":21,"x":5,"y":0.02},{"p":21,"x":5.5,"y":0.18},{"p":21,"x":6,"y":-0.12},{"p":21,"x":6.5,"y":0.05},{"p":21,"x":7,"y":-0.05},{"p":21,"x":7.5,"y":0.10},{"p":21,"x":8,"y":-0.20},{"p":21,"x":8.5,"y":0.12},{"p":21,"x":9,"y":0.02},{"p":21,"x":9.5,"y":0.08},{"p":21,"x":10,"y":-0.15},{"p":21,"x":10.5,"y":0.20},{"p":21,"x":11,"y":0.05},{"p":21,"x":11.5,"y":-0.10},{"p":21,"x":12,"y":0.12},{"p":21,"x":12.5,"y":-0.02},{"p":21,"x":13,"y":0.15},{"p":21,"x":13.5,"y":0.08},{"p":21,"x":14,"y":-0.18},{"p":21,"x":14.5,"y":0.02},{"p":21,"x":15,"y":0.10},{"p":21,"x":15.5,"y":-0.12},{"p":21,"x":16,"y":0.18},{"p":21,"x":16.5,"y":0.05},{"p":21,"x":17,"y":-0.08},{"p":21,"x":17.5,"y":0.02},{"p":21,"x":18,"y":0.15},{"p":21,"x":18.5,"y":-0.20},{"p":21,"x":19,"y":0.08},{"p":21,"x":19.5,"y":0.12},{"p":21,"x":20,"y":-0.05},{"p":21,"x":20.5,"y":0.02},{"p":21,"x":21,"y":0.18},{"p":21,"x":21.5,"y":-0.15},{"p":21,"x":22,"y":0.05},{"p":21,"x":22.5,"y":0.10},{"p":21,"x":23,"y":-0.10},{"p":21,"x":23.5,"y":0.20},{"p":21,"x":24,"y":0.02},{"p":21,"x":24.5,"y":-0.18},{"p":21,"x":25,"y":0.12},{"p":21,"x":25.5,"y":0.05},{"p":21,"x":26,"y":-0.05},{"p":21,"x":26.5,"y":0.15},{"p":21,"x":27,"y":-0.12},{"p":21,"x":27.5,"y":0.08},{"p":21,"x":28,"y":0.02},{"p":21,"x":28.5,"y":-0.20},{"p":21,"x":29,"y":0.15},{"p":21,"x":29.5,"y":0.05},{"p":21,"x":30,"y":-0.10},{"p":21,"x":30.5,"y":0.12},{"p":21,"x":31,"y":0.02},{"p":21,"x":31.5,"y":-0.15},
{"p":22,"x":0,"y":-0.10},{"p":22,"x":0.5,"y":0.12},{"p":22,"x":1,"y":0.20},{"p":22,"x":1.5,"y":-0.05},{"p":22,"x":2,"y":0.08},{"p":22,"x":2.5,"y":-0.15},{"p":22,"x":3,"y":0.15},{"p":22,"x":3.5,"y":0.02},{"p":22,"x":4,"y":-0.08},{"p":22,"x":4.5,"y":0.12},{"p":22,"x":5,"y":0.22},{"p":22,"x":5.5,"y":-0.12},{"p":22,"x":6,"y":0.05},{"p":22,"x":6.5,"y":0.18},{"p":22,"x":7,"y":-0.20},{"p":22,"x":7.5,"y":0.08},{"p":22,"x":8,"y":0.02},{"p":22,"x":8.5,"y":0.15},{"p":22,"x":9,"y":-0.10},{"p":22,"x":9.5,"y":0.05},{"p":22,"x":10,"y":0.20},{"p":22,"x":10.5,"y":-0.15},{"p":22,"x":11,"y":0.02},{"p":22,"x":11.5,"y":0.12},{"p":22,"x":12,"y":0.08},{"p":22,"x":12.5,"y":-0.05},{"p":22,"x":13,"y":0.18},{"p":22,"x":13.5,"y":-0.18},{"p":22,"x":14,"y":0.10},{"p":22,"x":14.5,"y":0.02},{"p":22,"x":15,"y":0.15},{"p":22,"x":15.5,"y":-0.08},{"p":22,"x":16,"y":0.22},{"p":22,"x":16.5,"y":-0.12},{"p":22,"x":17,"y":0.05},{"p":22,"x":17.5,"y":0.10},{"p":22,"x":18,"y":-0.15},{"p":22,"x":18.5,"y":0.02},{"p":22,"x":19,"y":0.18},{"p":22,"x":19.5,"y":0.08},{"p":22,"x":20,"y":-0.05},{"p":22,"x":20.5,"y":0.15},{"p":22,"x":21,"y":-0.20},{"p":22,"x":21.5,"y":0.10},{"p":22,"x":22,"y":0.02},{"p":22,"x":22.5,"y":0.12},{"p":22,"x":23,"y":-0.08},{"p":22,"x":23.5,"y":0.05},{"p":22,"x":24,"y":0.20},{"p":22,"x":24.5,"y":-0.15},{"p":22,"x":25,"y":0.10},{"p":22,"x":25.5,"y":0.02},{"p":22,"x":26,"y":-0.10},{"p":22,"x":26.5,"y":0.15},{"p":22,"x":27,"y":0.08},{"p":22,"x":27.5,"y":-0.05},{"p":22,"x":28,"y":0.22},{"p":22,"x":28.5,"y":-0.12},{"p":22,"x":29,"y":0.05},{"p":22,"x":29.5,"y":0.18},{"p":22,"x":30,"y":-0.02},{"p":22,"x":30.5,"y":-0.25},{"p":22,"x":31,"y":0.10},{"p":22,"x":31.5,"y":-0.28},
{"p":23,"x":0,"y":0.15},{"p":23,"x":0.5,"y":0.15},{"p":23,"x":1,"y":0.02},{"p":23,"x":1.5,"y":0.10},{"p":23,"x":2,"y":-0.05},{"p":23,"x":2.5,"y":0.18},{"p":23,"x":3,"y":0.20},{"p":23,"x":3.5,"y":0.12},{"p":23,"x":4,"y":-0.02},{"p":23,"x":4.5,"y":0.18},{"p":23,"x":5,"y":0.20},{"p":23,"x":5.5,"y":0.20},{"p":23,"x":6,"y":0.05},{"p":23,"x":6.5,"y":-0.05},{"p":23,"x":7,"y":0.02},{"p":23,"x":7.5,"y":-0.10},{"p":23,"x":8,"y":-0.05},{"p":23,"x":8.5,"y":0.08},{"p":23,"x":9,"y":0.05},{"p":23,"x":9.5,"y":-0.02},{"p":23,"x":10,"y":0.00},{"p":23,"x":10.5,"y":0.10},{"p":23,"x":11,"y":0.15},{"p":23,"x":11.5,"y":0.20},{"p":23,"x":12,"y":0.05},{"p":23,"x":12.5,"y":-0.08},{"p":23,"x":13,"y":0.10},{"p":23,"x":13.5,"y":-0.12},{"p":23,"x":14,"y":0.02},{"p":23,"x":14.5,"y":-0.05},{"p":23,"x":15,"y":0.12},{"p":23,"x":15.5,"y":0.15},{"p":23,"x":16,"y":0.25},{"p":23,"x":16.5,"y":0.22},{"p":23,"x":17,"y":0.30},{"p":23,"x":17.5,"y":0.20},{"p":23,"x":18,"y":0.28},{"p":23,"x":18.5,"y":0.15},{"p":23,"x":19,"y":0.12},{"p":23,"x":19.5,"y":0.20},{"p":23,"x":20,"y":0.05},{"p":23,"x":20.5,"y":0.10},{"p":23,"x":21,"y":-0.08},{"p":23,"x":21.5,"y":0.15},{"p":23,"x":22,"y":0.02},{"p":23,"x":22.5,"y":0.10},{"p":23,"x":23,"y":-0.15},{"p":23,"x":23.5,"y":0.05},{"p":23,"x":24,"y":0.20},{"p":23,"x":24.5,"y":0.12},{"p":23,"x":25,"y":0.08},{"p":23,"x":25.5,"y":0.15},{"p":23,"x":26,"y":-0.05},{"p":23,"x":26.5,"y":0.10},{"p":23,"x":27,"y":0.02},{"p":23,"x":27.5,"y":0.18},{"p":23,"x":28,"y":0.05},{"p":23,"x":28.5,"y":-0.10},{"p":23,"x":29,"y":0.30},{"p":23,"x":29.5,"y":0.15},{"p":23,"x":30,"y":0.02},{"p":23,"x":30.5,"y":-0.08},{"p":23,"x":31,"y":-0.68},{"p":23,"x":31.5,"y":0.22},
{"p":24,"x":0,"y":-0.48},{"p":24,"x":0.5,"y":0.48},{"p":24,"x":1,"y":0.10},{"p":24,"x":1.5,"y":-0.15},{"p":24,"x":2,"y":0.25},{"p":24,"x":2.5,"y":-0.20},{"p":24,"x":3,"y":0.12},{"p":24,"x":3.5,"y":0.30},{"p":24,"x":4,"y":0.32},{"p":24,"x":4.5,"y":-0.10},{"p":24,"x":5,"y":0.30},{"p":24,"x":5.5,"y":-0.22},{"p":24,"x":6,"y":0.05},{"p":24,"x":6.5,"y":0.15},{"p":24,"x":7,"y":0.28},{"p":24,"x":7.5,"y":-0.15},{"p":24,"x":8,"y":0.10},{"p":24,"x":8.5,"y":0.02},{"p":24,"x":9,"y":-0.20},{"p":24,"x":9.5,"y":0.22},{"p":24,"x":10,"y":0.05},{"p":24,"x":10.5,"y":-0.12},{"p":24,"x":11,"y":0.18},{"p":24,"x":11.5,"y":-0.25},{"p":24,"x":12,"y":0.08},{"p":24,"x":12.5,"y":0.15},{"p":24,"x":13,"y":-0.10},{"p":24,"x":13.5,"y":0.22},{"p":24,"x":14,"y":0.02},{"p":24,"x":14.5,"y":-0.18},{"p":24,"x":15,"y":0.10},{"p":24,"x":15.5,"y":0.25},{"p":24,"x":16,"y":0.48},{"p":24,"x":16.5,"y":-0.15},{"p":24,"x":17,"y":0.05},{"p":24,"x":17.5,"y":-0.20},{"p":24,"x":18,"y":0.12},{"p":24,"x":18.5,"y":0.02},{"p":24,"x":19,"y":-0.12},{"p":24,"x":19.5,"y":0.18},{"p":24,"x":20,"y":0.30},{"p":24,"x":20.5,"y":-0.05},{"p":24,"x":21,"y":0.10},{"p":24,"x":21.5,"y":-0.25},{"p":24,"x":22,"y":0.15},{"p":24,"x":22.5,"y":0.02},{"p":24,"x":23,"y":0.20},{"p":24,"x":23.5,"y":-0.15},{"p":24,"x":24,"y":0.08},{"p":24,"x":24.5,"y":0.22},{"p":24,"x":25,"y":-0.10},{"p":24,"x":25.5,"y":0.05},{"p":24,"x":26,"y":-0.28},{"p":24,"x":26.5,"y":0.12},{"p":24,"x":27,"y":0.18},{"p":24,"x":27.5,"y":-0.05},{"p":24,"x":28,"y":-0.30},{"p":24,"x":28.5,"y":0.10},{"p":24,"x":29,"y":0.64},{"p":24,"x":29.5,"y":-0.15},{"p":24,"x":30,"y":0.05},{"p":24,"x":30.5,"y":0.40},{"p":24,"x":31,"y":-0.35},{"p":24,"x":31.5,"y":0.35},
{"p":25,"x":0,"y":0.02},{"p":25,"x":0.5,"y":-0.22},{"p":25,"x":1,"y":0.15},{"p":25,"x":1.5,"y":0.08},{"p":25,"x":2,"y":-0.10},{"p":25,"x":2.5,"y":0.20},{"p":25,"x":3,"y":-0.25},{"p":25,"x":3.5,"y":0.05},{"p":25,"x":4,"y":0.12},{"p":25,"x":4.5,"y":-0.18},{"p":25,"x":5,"y":0.02},{"p":25,"x":5.5,"y":0.22},{"p":25,"x":6,"y":-0.08},{"p":25,"x":6.5,"y":0.15},{"p":25,"x":7,"y":-0.30},{"p":25,"x":7.5,"y":0.10},{"p":25,"x":8,"y":0.02},{"p":25,"x":8.5,"y":0.33},{"p":25,"x":9,"y":0.18},{"p":25,"x":9.5,"y":0.35},{"p":25,"x":10,"y":-0.05},{"p":25,"x":10.5,"y":0.08},{"p":25,"x":11,"y":-0.20},{"p":25,"x":11.5,"y":0.12},{"p":25,"x":12,"y":0.25},{"p":25,"x":12.5,"y":-0.10},{"p":25,"x":13,"y":0.05},{"p":25,"x":13.5,"y":0.18},{"p":25,"x":14,"y":-0.15},{"p":25,"x":14.5,"y":0.02},{"p":25,"x":15,"y":0.12},{"p":25,"x":15.5,"y":-0.08},{"p":25,"x":16,"y":0.22},{"p":25,"x":16.5,"y":-0.20},{"p":25,"x":17,"y":0.10},{"p":25,"x":17.5,"y":0.05},{"p":25,"x":18,"y":-0.12},{"p":25,"x":18.5,"y":0.15},{"p":25,"x":19,"y":0.28},{"p":25,"x":19.5,"y":-0.05},{"p":25,"x":20,"y":0.02},{"p":25,"x":20.5,"y":-0.18},{"p":25,"x":21,"y":0.12},{"p":25,"x":21.5,"y":0.20},{"p":25,"x":22,"y":-0.10},{"p":25,"x":22.5,"y":0.05},{"p":25,"x":23,"y":0.18},{"p":25,"x":23.5,"y":-0.22},{"p":25,"x":24,"y":0.08},{"p":25,"x":24.5,"y":0.02},{"p":25,"x":25,"y":0.15},{"p":25,"x":25.5,"y":-0.12},{"p":25,"x":26,"y":0.10},{"p":25,"x":26.5,"y":0.25},{"p":25,"x":27,"y":-0.05},{"p":25,"x":27.5,"y":0.02},{"p":25,"x":28,"y":0.12},{"p":25,"x":28.5,"y":-0.15},{"p":25,"x":29,"y":0.20},{"p":25,"x":29.5,"y":0.05},{"p":25,"x":30,"y":-0.10},{"p":25,"x":30.5,"y":0.15},{"p":25,"x":31,"y":0.08},{"p":25,"x":31.5,"y":-0.12},
{"p":26,"x":0,"y":0.44},{"p":26,"x":0.5,"y":0.10},{"p":26,"x":1,"y":-0.05},{"p":26,"x":1.5,"y":0.20},{"p":26,"x":2,"y":-0.15},{"p":26,"x":2.5,"y":0.43},{"p":26,"x":3,"y":0.25},{"p":26,"x":3.5,"y":-0.10},{"p":26,"x":4,"y":0.49},{"p":26,"x":4.5,"y":0.02},{"p":26,"x":5,"y":0.15},{"p":26,"x":5.5,"y":-0.20},{"p":26,"x":6,"y":0.43},{"p":26,"x":6.5,"y":0.30},{"p":26,"x":7,"y":-0.05},{"p":26,"x":7.5,"y":0.12},{"p":26,"x":8,"y":0.34},{"p":26,"x":8.5,"y":-0.15},{"p":26,"x":9,"y":0.08},{"p":26,"x":9.5,"y":0.02},{"p":26,"x":10,"y":0.33},{"p":26,"x":10.5,"y":-0.10},{"p":26,"x":11,"y":-0.20},{"p":26,"x":11.5,"y":0.15},{"p":26,"x":12,"y":0.05},{"p":26,"x":12.5,"y":-0.12},{"p":26,"x":13,"y":0.18},{"p":26,"x":13.5,"y":0.02},{"p":26,"x":14,"y":-0.08},{"p":26,"x":14.5,"y":0.22},{"p":26,"x":15,"y":0.10},{"p":26,"x":15.5,"y":-0.15},{"p":26,"x":16,"y":0.05},{"p":26,"x":16.5,"y":0.20},{"p":26,"x":17,"y":-0.10},{"p":26,"x":17.5,"y":0.12},{"p":26,"x":18,"y":0.02},{"p":26,"x":18.5,"y":0.25},{"p":26,"x":19,"y":-0.18},{"p":26,"x":19.5,"y":0.08},{"p":26,"x":20,"y":0.15},{"p":26,"x":20.5,"y":-0.05},{"p":26,"x":21,"y":0.20},{"p":26,"x":21.5,"y":-0.12},{"p":26,"x":22,"y":0.02},{"p":26,"x":22.5,"y":0.10},{"p":26,"x":23,"y":-0.08},{"p":26,"x":23.5,"y":0.18},{"p":26,"x":24,"y":0.05},{"p":26,"x":24.5,"y":-0.15},{"p":26,"x":25,"y":0.22},{"p":26,"x":25.5,"y":0.12},{"p":26,"x":26,"y":-0.05},{"p":26,"x":26.5,"y":0.30},{"p":26,"x":27,"y":0.02},{"p":26,"x":27.5,"y":-0.12},{"p":26,"x":28,"y":0.15},{"p":26,"x":28.5,"y":0.08},{"p":26,"x":29,"y":0.25},{"p":26,"x":29.5,"y":-0.10},{"p":26,"x":30,"y":0.20},{"p":26,"x":30.5,"y":0.47},{"p":26,"x":31,"y":0.05},{"p":26,"x":31.5,"y":0.30},
{"p":27,"x":0,"y":-0.25},{"p":27,"x":0.5,"y":0.15},{"p":27,"x":1,"y":0.05},{"p":27,"x":1.5,"y":-0.10},{"p":27,"x":2,"y":0.20},{"p":27,"x":2.5,"y":-0.30},{"p":27,"x":3,"y":0.08},{"p":27,"x":3.5,"y":0.12},{"p":27,"x":4,"y":-0.15},{"p":27,"x":4.5,"y":0.02},{"p":27,"x":5,"y":0.22},{"p":27,"x":5.5,"y":-0.05},{"p":27,"x":6,"y":0.10},{"p":27,"x":6.5,"y":-0.20},{"p":27,"x":7,"y":0.15},{"p":27,"x":7.5,"y":0.02},{"p":27,"x":8,"y":-0.12},{"p":27,"x":8.5,"y":0.18},{"p":27,"x":9,"y":0.05},{"p":27,"x":9.5,"y":-0.25},{"p":27,"x":10,"y":0.10},{"p":27,"x":10.5,"y":0.02},{"p":27,"x":11,"y":0.15},{"p":27,"x":11.5,"y":-0.08},{"p":27,"x":12,"y":0.12},{"p":27,"x":12.5,"y":-0.18},{"p":27,"x":13,"y":0.20},{"p":27,"x":13.5,"y":0.05},{"p":27,"x":14,"y":-0.10},{"p":27,"x":14.5,"y":0.02},{"p":27,"x":15,"y":0.15},{"p":27,"x":15.5,"y":-0.22},{"p":27,"x":16,"y":0.08},{"p":27,"x":16.5,"y":0.12},{"p":27,"x":17,"y":-0.05},{"p":27,"x":17.5,"y":0.18},{"p":27,"x":18,"y":0.02},{"p":27,"x":18.5,"y":-0.15},{"p":27,"x":19,"y":0.10},{"p":27,"x":19.5,"y":0.05},{"p":27,"x":20,"y":-0.20},{"p":27,"x":20.5,"y":0.12},{"p":27,"x":21,"y":0.02},{"p":27,"x":21.5,"y":0.15},{"p":27,"x":22,"y":-0.10},{"p":27,"x":22.5,"y":0.08},{"p":27,"x":23,"y":0.20},{"p":27,"x":23.5,"y":-0.12},{"p":27,"x":24,"y":0.05},{"p":27,"x":24.5,"y":0.02},{"p":27,"x":25,"y":-0.18},{"p":27,"x":25.5,"y":0.15},{"p":27,"x":26,"y":0.10},{"p":27,"x":26.5,"y":-0.05},{"p":27,"x":27,"y":0.12},{"p":27,"x":27.5,"y":-0.22},{"p":27,"x":28,"y":0.02},{"p":27,"x":28.5,"y":0.18},{"p":27,"x":29,"y":0.08},{"p":27,"x":29.5,"y":-0.15},{"p":27,"x":30,"y":0.10},{"p":27,"x":30.5,"y":0.05},{"p":27,"x":31,"y":-0.08},{"p":27,"x":31.5,"y":0.25}
]},
"mark":{"type":"line","strokeWidth":2},
"encoding":{
"x":{"field":"x","type":"quantitative","scale":{"domain":[-0.25,31.75],"nice":false,"zero":false},"axis":{"labels":false,"ticks":false,"domain":false,"grid":false,"title":"MFC Atten Controlled Value(0~31.5dB)","titleFont":"Open Sans","titleFontSize":22.5,"titleFontWeight":"bold","titleColor":"#000000","titlePadding":2}},
"y":{"field":"y","type":"quantitative","scale":{"domain":[-2.5,2],"nice":false,"zero":false},"axis":{"values":[-2.5,-2,-1.5,-1,-0.5,0,0.5,1,1.5,2],"labelExpr":"datum.value + ''","ticks":false,"domain":false,"gridColor":"#e4e4e4","gridWidth":1,"labelFontSize":17,"labelColor":"#595959","labelPadding":20,"title":"Defference of Controlled and Measured Value(dB)","titleFont":"Open Sans","titleFontSize":18.3,"titleFontWeight":"bold","titleColor":"#000000","titleBaseline":"alphabetic","titleX":-63}},
"color":{"field":"p","type":"nominal","scale":{"domain":[1,2,3,4,5,6,7,8,9,10,11,12,13,14,15,16,17,18,19,20,21,22,23,24,25,26,27],"range":["#5B9BD5","#ED7D31","#A5A5A5","#FFC000","#4472C4","#70AD47","#255E91","#9E480E","#636363","#997300","#264478","#43682B","#7CAFDD","#F1975A","#B7B7B7","#FFCD33","#698ED0","#8CC168","#327DC2","#D26012","#848484","#CC9A00","#335AA1","#A797CF","#7F6AAE","#7B2D2D","#4BACC6"]},"legend":{"orient":"none","legendX":892,"legendY":0,"values":[1,2,3,4,5,6,7,8,9,10,11,12,13,14,15,16,17,18,19,20,21,22,23],"labelExpr":"'Phase ' + datum.label","title":null,"symbolType":"stroke","symbolSize":324,"symbolStrokeWidth":2,"labelFontSize":17,"labelColor":"#404040","labelOffset":0,"rowPadding":6.77,"labelLimit":200}}
}}
